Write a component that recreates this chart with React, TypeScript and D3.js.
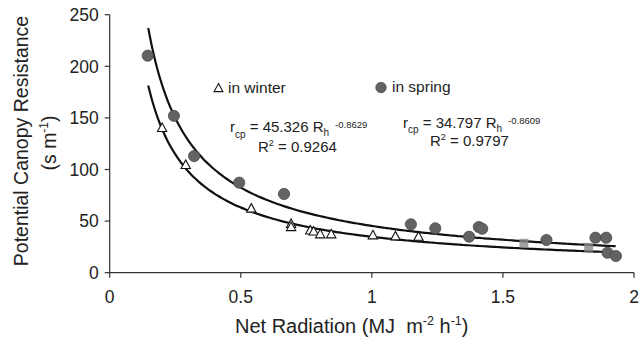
import React from 'react'
import * as d3 from 'd3'

// winter observations (open triangles)
const winterX = [0.2, 0.29, 0.54, 0.692, 0.692, 0.765, 0.778, 0.803, 0.845, 1.004, 1.09, 1.178]
const winterY = [140.5, 104.7, 62.4, 47.5, 44.5, 41.2, 40.2, 37.5, 37.5, 36.5, 35.5, 35.2]

// spring observations (grey dots)
const springX = [0.145, 0.245, 0.322, 0.494, 0.665, 1.149, 1.242, 1.371, 1.408, 1.421, 1.666, 1.853, 1.894, 1.899, 1.931]
const springY = [210.3, 152, 113, 87.2, 76.3, 46.9, 43, 34.9, 44.3, 42.6, 31.7, 33.9, 33.9, 19.4, 16.2]

// faint grey squares sitting on the lower curve
const faintX = [1.58, 1.827]
const faintY = [28.5, 24.6]

// fitted power curves r = a * Rh^b
const fitA = [45.326, 34.797]
const fitB = [-0.8629, -0.8609]
const fitRange = [0.147, 1.93]

const xTicks = [0, 0.5, 1, 1.5, 2]
const yTicks = [0, 50, 100, 150, 200, 250]

const W = 640
const H = 345
const font = 'Arial, "Liberation Sans", Helvetica, sans-serif'

export default function App() {
  const x = d3.scaleLinear().domain([0, 2]).range([109.7, 634])
  const y = d3.scaleLinear().domain([0, 250]).range([272.7, 14.7])

  const samples = d3.range(0, 121).map(i => fitRange[0] + (fitRange[1] - fitRange[0]) * i / 120)
  const line = d3
    .line<number[]>()
    .x(d => x(d[0]))
    .y(d => y(d[1]))
    .curve(d3.curveMonotoneX)

  const tri = (cx: number, cy: number, s: number) =>
    `M${cx},${cy - s * 0.55}L${cx + s * 0.55},${cy + s * 0.45}L${cx - s * 0.55},${cy + s * 0.45}Z`

  return (
    <svg width={W} height={H} style={{position: 'absolute', left: 0, top: 0, background: '#fff'}} fontFamily={font}>
      {/* axes */}
      <line x1={x(0)} x2={x(2)} y1={y(0)} y2={y(0)} stroke="#333" strokeWidth={1.2} />
      <line x1={x(0)} x2={x(0)} y1={y(0)} y2={y(250)} stroke="#333" strokeWidth={1.2} />
      {yTicks.map(t => (
        <g key={'y' + t}>
          <line x1={x(0) - 5} x2={x(0)} y1={y(t)} y2={y(t)} stroke="#333" strokeWidth={1.2} />
          <text x={x(0) - 11} y={y(t)} dy="0.36em" textAnchor="end" fontSize={17.5} fill="#222">
            {t}
          </text>
        </g>
      ))}
      {xTicks.map(t => (
        <g key={'x' + t}>
          <line x1={x(t)} x2={x(t)} y1={y(0)} y2={y(0) + 5} stroke="#333" strokeWidth={1.2} />
          <text x={x(t)} y={303} textAnchor="middle" fontSize={17.5} fill="#222">
            {t}
          </text>
        </g>
      ))}

      {/* axis titles */}
      <text transform="translate(28,141) rotate(-90)" textAnchor="middle" fontSize={19.5} fill="#222">
        Potential Canopy Resistance
      </text>
      <text transform="translate(56,143) rotate(-90)" textAnchor="middle" fontSize={19.5} fill="#222">
        (s m<tspan dy={-8} fontSize={12}>-1</tspan><tspan dy={8}>)</tspan>
      </text>
      <text x={235} y={333} fontSize={20} fill="#222">
        {'Net Radiation (MJ\u00a0\u00a0m'}<tspan dy={-8} fontSize={12.5}>-2</tspan>
        <tspan dy={8}> h</tspan><tspan dy={-8} fontSize={12.5}>-1</tspan><tspan dy={8}>)</tspan>
      </text>

      {/* fitted curves */}
      {fitA.map((a, k) => (
        <path
          key={'fit' + k}
          d={line(samples.map(v => [v, a * Math.pow(v, fitB[k])])) || ''}
          fill="none"
          stroke="#111"
          strokeWidth={2.2}
        />
      ))}

      {/* points */}
      {faintX.map((v, i) => (
        <rect key={'f' + i} x={x(v) - 4.5} y={y(faintY[i]) - 4.5} width={9} height={9} fill="#8a8a8a" opacity={0.8} />
      ))}
      {springX.map((v, i) => (
        <circle key={'s' + i} cx={x(v)} cy={y(springY[i])} r={5.6} fill="#636363" stroke="#4a4a4a" strokeWidth={0.8} />
      ))}
      {winterX.map((v, i) => (
        <path key={'w' + i} d={tri(x(v), y(winterY[i]), 8.5)} fill="#fff" stroke="#111" strokeWidth={1.1} />
      ))}

      {/* legend */}
      <path d={tri(218.5, 88, 8)} fill="#fff" stroke="#111" strokeWidth={1.1} />
      <text x={228} y={92.5} fontSize={15.5} fill="#222">in winter</text>
      <circle cx={381} cy={87.5} r={5.2} fill="#636363" stroke="#4a4a4a" strokeWidth={0.8} />
      <text x={392} y={92} fontSize={15.5} fill="#222">in spring</text>

      {/* equations */}
      <text x={230} y={131.5} fontSize={15} fill="#222">
        r<tspan dy={6} fontSize={10}>cp</tspan>
        <tspan dy={-6}> = 45.326 R</tspan>
        <tspan dy={4.5} fontSize={10}>h</tspan>
        <tspan dy={-8} dx={6} fontSize={9.5}>-0.8629</tspan>
      </text>
      <text x={258} y={152} fontSize={15} fill="#222">
        R<tspan dy={-6} fontSize={9}>2</tspan><tspan dy={6}> = 0.9264</tspan>
      </text>
      <text x={403} y={127.5} fontSize={15} fill="#222">
        r<tspan dy={5} fontSize={10}>cp</tspan>
        <tspan dy={-5}> = 34.797 R</tspan>
        <tspan dy={4} fontSize={10}>h</tspan>
        <tspan dy={-7.5} dx={6} fontSize={9.5}>-0.8609</tspan>
      </text>
      <text x={430} y={146} fontSize={15} fill="#222">
        R<tspan dy={-6} fontSize={9}>2</tspan><tspan dy={6}> = 0.9797</tspan>
      </text>
    </svg>
  )
}
